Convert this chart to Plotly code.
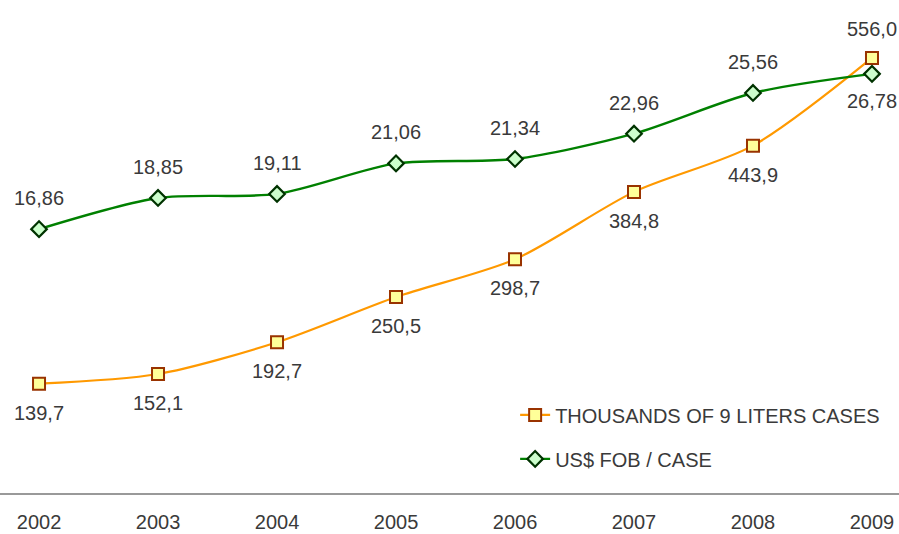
import plotly.graph_objects as go

years = [2002, 2003, 2004, 2005, 2006, 2007, 2008, 2009]
cases = [139.7, 152.1, 192.7, 250.5, 298.7, 384.8, 443.9, 556.0]
fob = [16.86, 18.85, 19.11, 21.06, 21.34, 22.96, 25.56, 26.78]
cases_name = "THOUSANDS OF 9 LITERS CASES"
fob_name = "US$ FOB / CASE"
# label placement: +1 above point, -1 below point
cases_pos = [-1, -1, -1, -1, -1, -1, -1, 1]
fob_pos = [1, 1, 1, 1, 1, 1, 1, -1]

FONT = "Liberation Sans, Arial, sans-serif"
TXT = "#3a3a3a"

fig = go.Figure()
fig.add_trace(go.Scatter(
    x=years, y=cases, name=cases_name, mode="lines+markers",
    line=dict(color="#FF9900", width=2.2, shape="spline", smoothing=0.8),
    marker=dict(symbol="square", size=12, color="#FFFF99",
                line=dict(color="#993300", width=2)),
    yaxis="y", legendgroup="a", cliponaxis=False,
))
fig.add_trace(go.Scatter(
    x=years, y=fob, name=fob_name, mode="lines+markers",
    line=dict(color="#008000", width=2.4, shape="spline", smoothing=0.8),
    marker=dict(symbol="diamond", size=12, color="#CCFFCC",
                line=dict(color="#003300", width=2.2)),
    yaxis="y2", legendgroup="b", cliponaxis=False,
))

ann = []
for x, v, p in zip(years, cases, cases_pos):
    ann.append(dict(x=x, y=v, xref="x", yref="y", showarrow=False,
                    text=f"{v:.1f}".replace(".", ","),
                    yshift=29 * p, font=dict(family=FONT, size=20, color=TXT)))
for x, v, p in zip(years, fob, fob_pos):
    ann.append(dict(x=x, y=v, xref="x", yref="y2", showarrow=False,
                    text=f"{v:.2f}".replace(".", ","),
                    yshift=(31 if p > 0 else 27) * p,
                    font=dict(family=FONT, size=20, color=TXT)))

fig.update_layout(
    width=899, height=534,
    margin=dict(l=0, r=0, t=0, b=41),
    paper_bgcolor="white", plot_bgcolor="white",
    font=dict(family=FONT, size=20, color=TXT),
    xaxis=dict(range=[2001.672, 2009.227], showgrid=False, zeroline=False,
               tickmode="array", tickvals=years,
               ticktext=[str(y) for y in years],
               showline=True, linecolor="#999999", linewidth=2,
               ticks="", ticklabelstandoff=10,
               tickfont=dict(family=FONT, size=20, color=TXT)),
    yaxis=dict(range=[0, 630], visible=False, showgrid=False, zeroline=False),
    yaxis2=dict(range=[0, 31.5], overlaying="y", visible=False,
                showgrid=False, zeroline=False),
    legend=dict(x=0.573, y=0.198, xanchor="left", yanchor="top",
                traceorder="grouped", tracegroupgap=15,
                bgcolor="rgba(0,0,0,0)",
                font=dict(family=FONT, size=20, color=TXT)),
    annotations=ann,
    showlegend=True,
)
fig.write_html("out.html", config={"displayModeBar": False},
               post_script="document.body.style.margin='0';")
